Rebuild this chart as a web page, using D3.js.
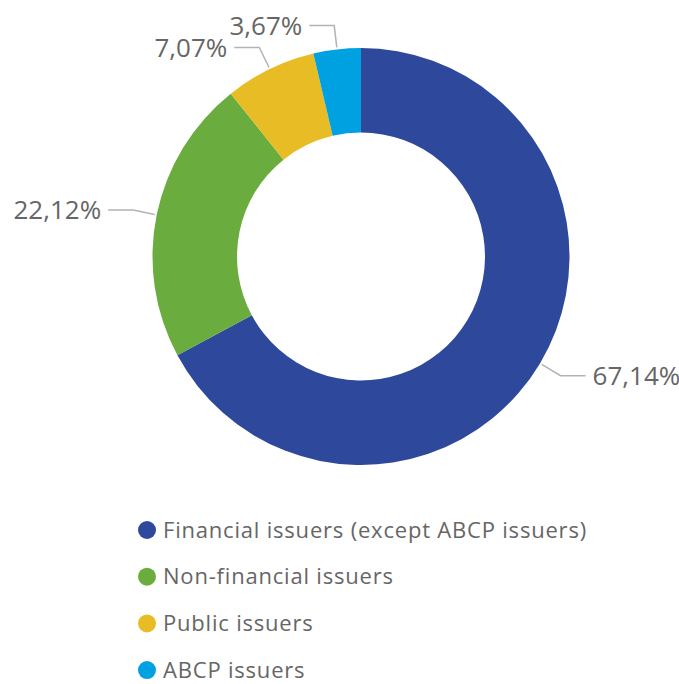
<!DOCTYPE html>
<html>
<head>
<meta charset="utf-8">
<script src="https://cdn.jsdelivr.net/npm/d3@7"></script>
<style>
  body { margin: 0; background: #fff; }
  svg { display: block; font-family: "Open Sans", "Noto Sans", sans-serif; }
</style>
</head>
<body>
<div id="chart"></div>
<script>
const categories = ["Financial issuers (except ABCP issuers)", "Non-financial issuers", "Public issuers", "ABCP issuers"];
const values = [67.14, 22.12, 7.07, 3.67];
const labels = ["67,14%", "22,12%", "7,07%", "3,67%"];
const colors = ["#2e489c", "#6aac3e", "#e8bc25", "#00a1e0"];

const width = 679, height = 684;
const cx = 361, cy = 256.5;
const outerR = 208.5, innerR = 124;

const svg = d3.select("#chart").append("svg")
  .attr("width", width)
  .attr("height", height);

const data = categories.map((c, i) => ({ name: c, value: values[i], label: labels[i], color: colors[i] }));

const pie = d3.pie()
  .value(d => d.value)
  .sort(null);

const arc = d3.arc()
  .innerRadius(innerR)
  .outerRadius(outerR);

const arcs = pie(data);

const g = svg.append("g")
  .attr("transform", "translate(" + cx + "," + cy + ")");

g.selectAll(".slice")
  .data(arcs)
  .enter().append("path")
  .attr("class", "slice")
  .attr("d", arc)
  .attr("fill", d => d.data.color);

// leader lines + labels
const startArc = d3.arc().innerRadius(outerR + 2).outerRadius(outerR + 2);
const elbowArc = d3.arc().innerRadius(outerR + 24).outerRadius(outerR + 24);

arcs.forEach(function(d) {
  const p1 = startArc.centroid(d);
  const p2 = elbowArc.centroid(d);
  const right = p2[0] > 0;
  const p3 = [p2[0] + (right ? 25 : -25), p2[1]];

  g.append("polyline")
    .attr("points", [p1, p2, p3].map(p => p.join(",")).join(" "))
    .attr("fill", "none")
    .attr("stroke", "#b3b3b3")
    .attr("stroke-width", 1.5);

  g.append("text")
    .attr("x", p3[0] + (right ? 7 : -7))
    .attr("y", p3[1])
    .attr("dy", "0.35em")
    .attr("text-anchor", right ? "start" : "end")
    .attr("fill", "#666666")
    .attr("font-size", 26)
    .text(d.data.label);
});

// legend
const legend = svg.append("g")
  .attr("transform", "translate(147,530)");

const row = legend.selectAll(".row")
  .data(data)
  .enter().append("g")
  .attr("class", "row")
  .attr("transform", (d, i) => "translate(0," + (i * 46.7) + ")");

row.append("circle")
  .attr("r", 9)
  .attr("fill", d => d.color);

row.append("text")
  .attr("x", 16)
  .attr("dy", "0.35em")
  .attr("fill", "#666666")
  .attr("font-size", 22)
  .attr("letter-spacing", 0.8)
  .text(d => d.name);
</script>
</body>
</html>
